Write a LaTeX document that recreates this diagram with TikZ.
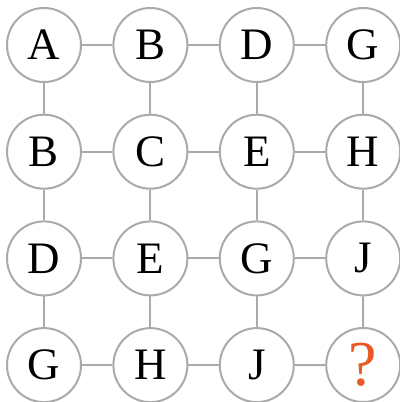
\documentclass[tikz,border=0pt]{standalone}
\usepackage{fontspec}
\setmainfont{Liberation Serif}
\usetikzlibrary{calc}

\definecolor{ringgray}{RGB}{170,170,172}
\definecolor{askorange}{RGB}{234,88,38}

\tikzset{
  cell/.style={circle,draw=ringgray,line width=2bp,fill=white,
    minimum size=74bp,inner sep=0pt,font=\fontsize{45bp}{45bp}\selectfont},
  link/.style={draw=ringgray,line width=2bp}
}

\begin{document}
\begin{tikzpicture}[x=1bp,y=-1bp]
\useasboundingbox (0,0) rectangle (400,402);

% Grid of letters
\foreach \lab [count=\i from 1] in {A,B,D,G,B,C,E,H,D,E,G,J,G,H,J}
{
\pgfmathtruncatemacro{\r}{int((\i-1)/4)+1}
\pgfmathtruncatemacro{\c}{mod(\i-1,4)+1}
\node[cell] (n\r\c) at ({44+106.4*(\c-1)},{45+106.7*(\r-1)}) {\lab};
}

% Missing one
\node[cell,text=askorange,font=\fontsize{64bp}{64bp}\selectfont] (n44) at (363.2,365) {?};

% Links
\foreach \r in {1,...,4}
{
\foreach \c [evaluate=\c as \d using int(\c+1)] in {1,2,3}
{
\draw[link] (n\r\c) -- (n\r\d);
\draw[link] (n\c\r) -- (n\d\r);
}
}

\end{tikzpicture}
\end{document}
